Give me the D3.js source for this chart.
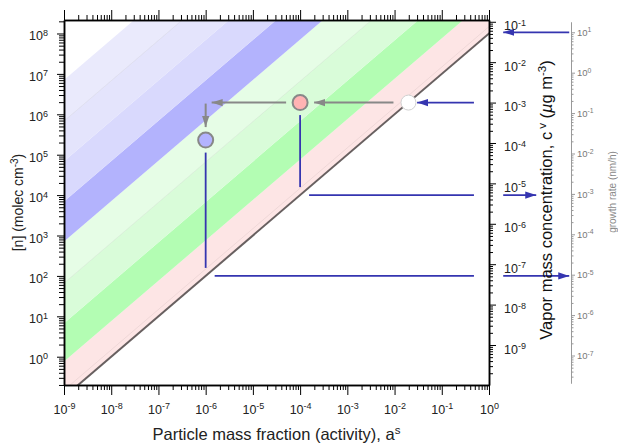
<!DOCTYPE html>
<html>
<head>
<meta charset="utf-8">
<script src="https://cdn.jsdelivr.net/npm/d3@7"></script>
<style>
  body { margin: 0; background: #fff; }
  svg { display: block; font-family: "Liberation Sans", Arial, Helvetica, sans-serif; }
</style>
</head>
<body>
<svg id="chart" width="618" height="443"></svg>
<script>
// tick exponents for each axis
const activityExps = d3.range(-9, 1);   // bottom: 10^-9 .. 10^0
const numberExps = d3.range(0, 9);      // left: 10^0 .. 10^8
const vaporExps = d3.range(-9, 0);      // right: 10^-9 .. 10^-1
const growthExps = d3.range(-7, 2);     // growth rate: 10^-7 .. 10^1

// band edges as log10([n] / a^s), from the saturation line upward
const bandEdges = [8.0, 8.88, 9.83, 10.82, 11.85, 12.84, 13.84, 14.83, 15.85];
const bandFills = ['#fde5e5', '#b3fdb3', '#d9fcd9', '#e6fde6', '#b3b3fd', '#d9d9fd', '#e4e4fc', '#eaeafc'];
const faintEdges = [8.17, 10.82, 14.83];
const saturationEdge = 8.0;

// unit conversions between the axes (log10 offsets from [n])
const vaporOffset = -9.29;
const growthOffset = -7.03;

// states: activity a^s and [n]
const stateA = [0.0197, 1e-4, 1e-6];
const stateN = [1.95e6, 1.95e6, 2.3e5];
const stateFill = ['#ffffff', '#ffb3b3', '#b3b3ff'];
const stateStroke = ['#d0d0d0', '#888888', '#888888'];

// blue guide lines: drop from a state to the saturation line, then across
const dropA = [1e-4, 1e-6];
const dropTopN = [1.95e6, 2.3e5];
const dropLevelN = [1e4, 1e2];
const levelEndA = 0.48;

// blue arrows at the right: [a from, a to, [n]]
const blueArrowFromA = [0.48, 2, 2];
const blueArrowToA = [0.03, 10, 50];
const blueArrowN = [1.95e6, 1e4, 1e2];
// arrow from the growth rate axis to the vapor axis
const growthArrowFromA = 50, growthArrowToA = 2, growthArrowValue = 10;

const svg = d3.select('#chart');
const P = { left: 64, right: 489, top: 20, bottom: 385 };

const x = d3.scaleLog().domain([1e-9, 1]).range([P.left, P.right]);
const y = d3.scaleLog().domain([10 ** -0.70, 10 ** 8.334]).range([P.bottom, P.top]);
const yV = d3.scaleLog().domain(y.domain().map(v => v * 10 ** vaporOffset)).range(y.range());
const yG = d3.scaleLog()
  .domain([y.invert(383), y.invert(22)].map(v => v * 10 ** growthOffset))
  .range([383, 22]);

function minorTicks(domain) {
  const [lo, hi] = d3.extent(domain);
  const out = [];
  for (let e = Math.floor(Math.log10(lo)); e <= Math.ceil(Math.log10(hi)); e++) {
    for (let m = 2; m <= 9; m++) {
      const v = m * 10 ** e;
      if (v >= lo && v <= hi) out.push(v);
    }
  }
  return out;
}

// "10" with a raised exponent
function powLabels(g, size, shift) {
  g.selectAll('.tick text').each(function (d) {
    const t = d3.select(this);
    t.text('10');
    t.append('tspan').attr('dy', -shift).attr('font-size', size * 0.72).text(Math.round(Math.log10(d)));
  });
}

const defs = svg.append('defs');
defs.append('clipPath').attr('id', 'plotClip')
  .append('rect').attr('x', P.left).attr('y', P.top)
  .attr('width', P.right - P.left).attr('height', P.bottom - P.top);

function arrowMarker(id, color) {
  defs.append('marker')
    .attr('id', id)
    .attr('viewBox', '0 -4 12 8')
    .attr('refX', 11).attr('refY', 0)
    .attr('markerWidth', 12).attr('markerHeight', 8)
    .attr('markerUnits', 'userSpaceOnUse')
    .attr('orient', 'auto')
    .append('path').attr('d', 'M0,-3.6L11,0L0,3.6Z').attr('fill', color);
}
arrowMarker('arrowGray', '#888888');
arrowMarker('arrowBlue', '#3535b0');

// bands: lines [n] = 10^K * a, far beyond the plot, clipped
const aLo = 1e-12, aHi = 1e3;
const bandPoly = (k0, k1) => [
  [x(aLo), y(10 ** k0 * aLo)], [x(aHi), y(10 ** k0 * aHi)],
  [x(aHi), y(10 ** k1 * aHi)], [x(aLo), y(10 ** k1 * aLo)]
];

const plot = svg.append('g').attr('clip-path', 'url(#plotClip)');
plot.selectAll('.band')
  .data(d3.pairs(bandEdges))
  .enter().append('path')
  .attr('class', 'band')
  .attr('d', d => 'M' + bandPoly(d[0], d[1]).join('L') + 'Z')
  .attr('fill', (_, i) => bandFills[i]);

plot.selectAll('.faint')
  .data(faintEdges)
  .enter().append('line')
  .attr('x1', x(aLo)).attr('y1', k => y(10 ** k * aLo))
  .attr('x2', x(aHi)).attr('y2', k => y(10 ** k * aHi))
  .attr('stroke', '#000').attr('stroke-opacity', 0.06).attr('stroke-width', 1);

plot.append('line')
  .attr('x1', x(aLo)).attr('y1', y(10 ** saturationEdge * aLo))
  .attr('x2', x(aHi)).attr('y2', y(10 ** saturationEdge * aHi))
  .attr('stroke', '#686060').attr('stroke-width', 2);

// pixel segment with gaps at both ends
function seg(p1, p2, g1, g2) {
  const dx = p2[0] - p1[0], dy = p2[1] - p1[1], L = Math.hypot(dx, dy);
  const ux = dx / L, uy = dy / L;
  return { x1: p1[0] + ux * g1, y1: p1[1] + uy * g1, x2: p2[0] - ux * g2, y2: p2[1] - uy * g2 };
}
function drawSeg(s, color, width, marker) {
  const l = svg.append('line')
    .attr('x1', s.x1).attr('y1', s.y1).attr('x2', s.x2).attr('y2', s.y2)
    .attr('stroke', color).attr('stroke-width', width);
  if (marker) l.attr('marker-end', `url(#${marker})`);
}

const BLUE = '#3535b0';
// blue drop + level lines
dropA.forEach((a, i) => {
  drawSeg(seg([x(a), y(dropTopN[i])], [x(a), y(dropLevelN[i])], 12.5, 8), BLUE, 1.8);
  drawSeg(seg([x(a), y(dropLevelN[i])], [x(levelEndA), y(dropLevelN[i])], 9, 0), BLUE, 1.8);
});
// blue arrows
blueArrowN.forEach((n, i) => {
  drawSeg(seg([x(blueArrowFromA[i]), y(n)], [x(blueArrowToA[i]), y(n)], 0, 0), BLUE, 1.8, 'arrowBlue');
});
drawSeg(seg([x(growthArrowFromA), yG(growthArrowValue)], [x(growthArrowToA), yG(growthArrowValue)], 0, 0),
  BLUE, 1.8, 'arrowBlue');

// gray arrows between the states
const pts = stateA.map((a, i) => [x(a), y(stateN[i])]);
const corner = [x(stateA[2]), y(stateN[1])];
drawSeg(seg(pts[0], pts[1], 15, 14), '#888888', 2, 'arrowGray');
drawSeg(seg(pts[1], corner, 14, 6), '#888888', 2, 'arrowGray');
drawSeg(seg(corner, pts[2], 1, 13), '#888888', 2, 'arrowGray');

svg.selectAll('.state')
  .data(stateA)
  .enter().append('circle')
  .attr('class', 'state')
  .attr('cx', a => x(a))
  .attr('cy', (_, i) => y(stateN[i]))
  .attr('r', 7.5)
  .attr('fill', (_, i) => stateFill[i])
  .attr('stroke', (_, i) => stateStroke[i])
  .attr('stroke-width', (_, i) => i === 0 ? 1 : 2);

// axes
function styleAxis(g, color, width) {
  g.attr('font-family', null).attr('font-size', null);
  g.select('.domain').attr('stroke', color).attr('stroke-width', width);
  g.selectAll('.tick line').attr('stroke', color).attr('stroke-width', 1);
}

const decades = exps => exps.map(e => 10 ** e);
const TICK_FONT = 12.5;

// bottom
svg.append('g').attr('transform', `translate(0,${P.bottom})`)
  .call(d3.axisBottom(x).tickValues(minorTicks(x.domain())).tickSize(5).tickSizeOuter(0).tickFormat(''))
  .call(g => styleAxis(g, '#000', 1.5));
svg.append('g').attr('transform', `translate(0,${P.bottom})`)
  .call(d3.axisBottom(x).tickValues(decades(activityExps)).tickSize(10).tickPadding(10).tickSizeOuter(0).tickFormat(''))
  .call(g => styleAxis(g, '#000', 1.5))
  .call(g => g.selectAll('.tick text').attr('font-size', TICK_FONT).attr('fill', '#222'))
  .call(g => powLabels(g, TICK_FONT, 4.5));

// top
svg.append('g').attr('transform', `translate(0,${P.top})`)
  .call(d3.axisTop(x).tickValues(minorTicks(x.domain())).tickSize(5).tickSizeOuter(0).tickFormat(''))
  .call(g => styleAxis(g, '#000', 1.5));
svg.append('g').attr('transform', `translate(0,${P.top})`)
  .call(d3.axisTop(x).tickValues(decades(activityExps)).tickSize(10).tickSizeOuter(0).tickFormat(''))
  .call(g => styleAxis(g, '#000', 1.5));

// left
svg.append('g').attr('transform', `translate(${P.left},0)`)
  .call(d3.axisLeft(y).tickValues(minorTicks(y.domain())).tickSize(5).tickSizeOuter(0).tickFormat(''))
  .call(g => styleAxis(g, '#000', 1.5));
svg.append('g').attr('transform', `translate(${P.left},0)`)
  .call(d3.axisLeft(y).tickValues(decades(numberExps)).tickSize(7).tickPadding(9).tickSizeOuter(0).tickFormat(''))
  .call(g => styleAxis(g, '#000', 1.5))
  .call(g => g.selectAll('.tick text').attr('font-size', TICK_FONT).attr('dy', 6.5).attr('fill', '#222'))
  .call(g => powLabels(g, TICK_FONT, 4.5));

// right (vapor mass concentration)
svg.append('g').attr('transform', `translate(${P.right},0)`)
  .call(d3.axisRight(yV).tickValues(minorTicks(yV.domain())).tickSize(4).tickSizeOuter(0).tickFormat(''))
  .call(g => styleAxis(g, '#000', 1.5));
svg.append('g').attr('transform', `translate(${P.right},0)`)
  .call(d3.axisRight(yV).tickValues(decades(vaporExps)).tickSize(7).tickPadding(8).tickSizeOuter(0).tickFormat(''))
  .call(g => styleAxis(g, '#000', 1.5))
  .call(g => g.selectAll('.tick text').attr('font-size', TICK_FONT).attr('dy', 8).attr('fill', '#222'))
  .call(g => powLabels(g, TICK_FONT, 4.5));

// growth rate axis
const GX = 571;
svg.append('g').attr('transform', `translate(${GX},0)`)
  .call(d3.axisRight(yG).tickValues(minorTicks(yG.domain())).tickSize(2.5).tickSizeOuter(0).tickFormat(''))
  .call(g => styleAxis(g, '#999', 1));
svg.append('g').attr('transform', `translate(${GX},0)`)
  .call(d3.axisRight(yG).tickValues(decades(growthExps)).tickSize(4).tickPadding(2).tickSizeOuter(0).tickFormat(''))
  .call(g => styleAxis(g, '#999', 1))
  .call(g => g.selectAll('.tick text').attr('font-size', 9.5).attr('dy', 3.2).attr('fill', '#777'))
  .call(g => powLabels(g, 9.5, 3.6));

// axis titles
const bottomTitle = svg.append('text')
  .attr('x', (P.left + P.right) / 2).attr('y', 440)
  .attr('text-anchor', 'middle').attr('font-size', 16.5).attr('fill', '#222');
bottomTitle.append('tspan').text('Particle mass fraction (activity), a');
bottomTitle.append('tspan').attr('dy', -6.5).attr('font-size', 11.5).text('s');

const leftTitle = svg.append('text')
  .attr('transform', `translate(23,${(P.top + P.bottom) / 2}) rotate(-90)`)
  .attr('text-anchor', 'middle').attr('font-size', 14).attr('fill', '#222');
leftTitle.append('tspan').text('[n] (molec cm');
leftTitle.append('tspan').attr('dy', -5).attr('font-size', 10).text('-3');
leftTitle.append('tspan').attr('dy', 5).text(')');

const rightTitle = svg.append('text')
  .attr('transform', 'translate(552,200) rotate(-90)')
  .attr('text-anchor', 'middle').attr('font-size', 16.5).attr('fill', '#111');
rightTitle.append('tspan').text('Vapor mass concentration, c');
rightTitle.append('tspan').attr('dx', 3).attr('dy', -6.5).attr('font-size', 11.5).text('v');
rightTitle.append('tspan').attr('dy', 6.5).text(' (');
rightTitle.append('tspan').attr('font-style', 'italic').text('\u00b5');
rightTitle.append('tspan').text('g m');
rightTitle.append('tspan').attr('dy', -6.5).attr('font-size', 11.5).text('-3');
rightTitle.append('tspan').attr('dy', 6.5).text(')');

svg.append('text')
  .attr('transform', 'translate(616,192) rotate(-90)')
  .attr('text-anchor', 'middle').attr('font-size', 10).attr('fill', '#888')
  .text('growth rate (nm/h)');
</script>
</body>
</html>
